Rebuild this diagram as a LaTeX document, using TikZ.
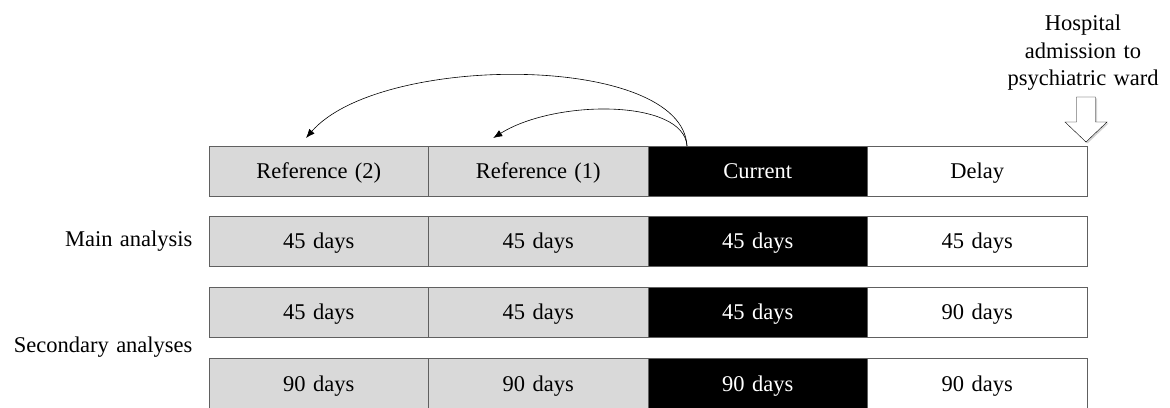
\documentclass[tikz,border=0pt]{standalone}
\usepackage{fontspec}
\setmainfont{Liberation Serif}[WordSpace=1.3]
\usetikzlibrary{positioning,arrows.meta,shadows}
\definecolor{refgray}{HTML}{D9D9D9}
\definecolor{edgegray}{HTML}{606060}

\begin{document}
\begin{tikzpicture}[x=1pt,y=1pt,
        font=\fontsize{22.5}{27.5}\selectfont,
        period/.style={draw=edgegray,line width=0.8pt,minimum width=219.5pt,
            minimum height=50pt,inner sep=0pt,outer sep=0pt,
            text height=20pt,text depth=4pt},
        refbox/.style={period,fill=refgray},
        curbox/.style={period,fill=black,text=white},
        delbox/.style={period,fill=white},
        lookback/.style={draw,line width=0.6pt,-{Latex[length=9pt,width=7pt]}},
        ]
    \useasboundingbox (0,0) rectangle (1170,407);
    % periods
    \node (r0a) [refbox] at (318.75,236) {Reference (2)};
    \node (r0b) [refbox, right=0pt of r0a] {Reference (1)};
    \node (r0c) [curbox, right=0pt of r0b] {Current};
    \node (r0d) [delbox, right=0pt of r0c] {Delay};
    % main analysis
    \node (r1a) [refbox] at (318.75,166) {45 days};
    \node (r1b) [refbox, right=0pt of r1a] {45 days};
    \node (r1c) [curbox, right=0pt of r1b] {45 days};
    \node (r1d) [delbox, right=0pt of r1c] {45 days};
    \node (mainlbl) [left=13pt of r1a] {Main analysis};
    % secondary analyses
    \node (r2a) [refbox] at (318.75,95) {45 days};
    \node (r2b) [refbox, right=0pt of r2a] {45 days};
    \node (r2c) [curbox, right=0pt of r2b] {45 days};
    \node (r2d) [delbox, right=0pt of r2c] {90 days};
    \node (r3a) [refbox] at (318.75,24) {90 days};
    \node (r3b) [refbox, right=0pt of r3a] {90 days};
    \node (r3c) [curbox, right=0pt of r3b] {90 days};
    \node (r3d) [delbox, right=0pt of r3c] {90 days};
    \node (seclbl) [anchor=east] at (196,60) {Secondary analyses};
    % admission
    \node (adm) [align=center] at (1083,354) {Hospital\\admission to\\psychiatric ward};
    \draw[fill=white, drop shadow={opacity=0.35,shadow xshift=1.5pt,shadow yshift=-1.5pt}]
        (1076.5,310) -- (1095.5,310) -- (1095.5,285) -- (1107,285) -- (1086,265)
        -- (1065,285) -- (1076.5,285) -- cycle;
    % look-back arcs
    \coordinate (src) at ([xshift=39pt]r0c.north west);
    \path[lookback] (src) .. controls +(-5,93) and +(74,85) .. ([xshift=-12.75pt,yshift=8pt]r0a.north);
    \path[lookback] (src) .. controls +(-3,47) and +(62,39) .. ([xshift=-45pt,yshift=8pt]r0b.north);
\end{tikzpicture}
\end{document}
